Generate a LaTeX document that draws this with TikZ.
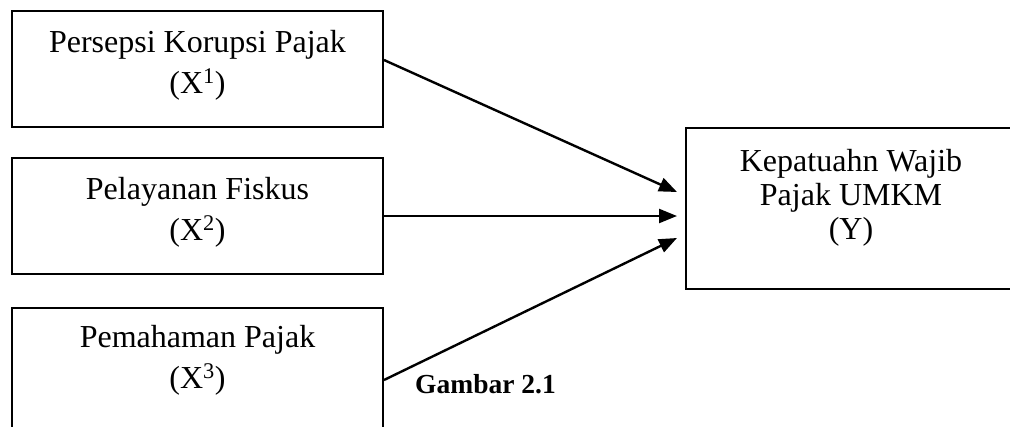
\documentclass[tikz,border=0pt]{standalone}
\usepackage{fontspec}
\setmainfont{Liberation Serif}
\usetikzlibrary{arrows.meta}
\begin{document}
\begin{tikzpicture}[x=1pt,y=-1pt,
  varbox/.style={draw, line width=2pt, rectangle, inner sep=0pt, minimum width=371pt, minimum height=116pt},
  boxtext/.style={align=center, anchor=base, inner sep=0pt, font=\fontsize{32}{41}\selectfont},
  conn/.style={line width=2.4pt, -{Triangle[length=18pt,width=14pt]}}]
\useasboundingbox (0,0) rectangle (1010,426);
\clip (0,0) rectangle (1010,426);
\node[varbox] (b1) at (197.5,69) {};
\node[varbox] (b2) at (197.5,216) {};
\node[varbox, minimum height=124pt] (b3) at (197.5,370) {};
\node[varbox, minimum width=334pt, minimum height=161pt] (y) at (853,208.5) {};
\node[boxtext] (t1) at (197.5,93) {Persepsi Korupsi Pajak\\(X\textsuperscript{1})};
\node[boxtext] (t2) at (197.5,240) {Pelayanan Fiskus\\(X\textsuperscript{2})};
\node[boxtext] (t3) at (197.5,388) {Pemahaman Pajak\\(X\textsuperscript{3})};
\node[boxtext, font=\fontsize{32}{34}\selectfont] (ty) at (851,239) {Kepatuahn Wajib\\Pajak UMKM\\(Y)};
\node[anchor=base west, inner sep=0pt, font=\fontsize{27.5}{34}\selectfont\bfseries] (cap) at (415,393) {Gambar 2.1};
\draw[conn] ([yshift=9pt]b1.east) -- ([xshift=-8pt,yshift=16.5pt]y.west);
\draw[conn] (b2.east) -- ([xshift=-8pt]y.west |- b2.east);
\draw[conn] ([yshift=-10pt]b3.east) -- ([xshift=-8pt,yshift=-29.5pt]y.west);
\end{tikzpicture}
\end{document}
